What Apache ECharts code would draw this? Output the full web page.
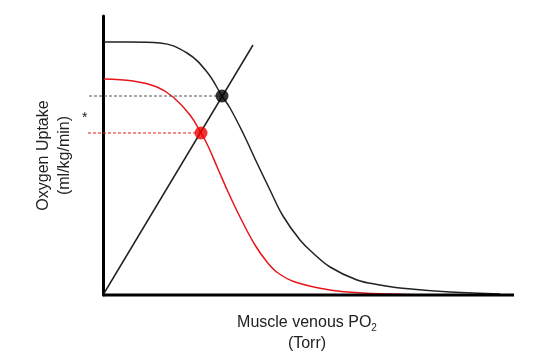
<!DOCTYPE html>
<html>
<head>
<meta charset="utf-8">
<script src="https://cdn.jsdelivr.net/npm/echarts@6/dist/echarts.min.js"></script>
<style>html,body{margin:0;padding:0;background:#fff;}#c{width:558px;height:362px;}</style>
</head>
<body>
<div id="c"></div>
<script>
// Normal (black) uptake curve: [PO2, uptake]
var normalCurve = [[1,253],[27,253],[57,252],[84,242],[104,223],[119,199],[127,187],[140,162],[154,132],[167,105],[180,79],[197,55],[210,42],[227,28],[254,15],[277,10],[297,7],[347,3],[397,1]];
// Impaired (red) uptake curve
var impairedCurve = [[1,216],[30,214],[54,208],[70,198],[87,180],[98,162],[105,149],[115,126],[126,101],[139,74],[152,50],[164,33],[175,22],[192,13],[227,5],[260,2],[287,1],[317,0]];
// Fick line (straight)
var fickLine = [[0,0],[150,250]];
// Operating points
var normalPoint = [119,199];
var impairedPoint = [98,162];
var dashStartX = -14;
var xAxisBase = [[0,0],[411,0]];
var xTitle = 'Muscle venous PO{sub|2}\n(Torr)';
var yTitle = 'Oxygen Uptake\n(ml/kg/min)';

var chart = echarts.init(document.getElementById('c'));
var font = 'Liberation Sans, Arial, sans-serif';
chart.setOption({
  animation: false,
  grid: {left: 88, top: 16, width: 426, height: 279},
  xAxis: {
    type: 'value', min: -15, max: 411,
    axisLine: {show: false},
    axisTick: {show: false}, axisLabel: {show: false}, splitLine: {show: false},
    name: xTitle, nameLocation: 'middle', nameGap: 17,
    nameTextStyle: {fontFamily: font, fontSize: 16, color: '#222', lineHeight: 21, align: 'center', verticalAlign: 'top', padding: [0,0,0,12],
      rich: {sub: {fontFamily: font, fontSize: 10, color: '#222', verticalAlign: 'bottom', padding: [6,0,0,0]}}}
  },
  yAxis: {
    type: 'value', min: 0, max: 279,
    axisLine: {show: true, onZero: true, lineStyle: {color: '#000', width: 3}},
    axisTick: {show: false}, axisLabel: {show: false}, splitLine: {show: false},
    name: yTitle, nameLocation: 'middle', nameGap: 13, nameRotate: 90,
    nameTextStyle: {fontFamily: font, fontSize: 16, color: '#222', lineHeight: 21, align: 'center'}
  },
  series: [
    {type: 'line', data: xAxisBase, symbol: 'none', clip: false, z: 4,
     lineStyle: {color: '#000', width: 3}},
    {type: 'line', data: normalCurve, smooth: 0.4, symbol: 'none', clip: false,
     lineStyle: {color: '#222', width: 1.5}},
    {type: 'line', data: impairedCurve, smooth: 0.4, symbol: 'none', clip: false,
     lineStyle: {color: '#e8161b', width: 1.5}},
    {type: 'line', data: fickLine, symbol: 'none', clip: false,
     lineStyle: {color: '#222', width: 1.5}},
    {type: 'line', data: [[dashStartX, normalPoint[1]], normalPoint], symbol: 'none', clip: false,
     lineStyle: {color: '#555', width: 1, type: [3,2]}},
    {type: 'line', data: [[dashStartX - 1, impairedPoint[1]], impairedPoint], symbol: 'none', clip: false,
     lineStyle: {color: '#e8161b', width: 1, type: [3,2]}},
    {type: 'scatter', data: [normalPoint], symbolSize: 13, itemStyle: {color: '#000'}, z: 5},
    {type: 'scatter', data: [impairedPoint], symbolSize: 13, itemStyle: {color: '#f00000'}, z: 5}
  ],
  graphic: [
    {type: 'text', left: 82, top: 111, style: {text: '*', fontFamily: font, fontSize: 14, fill: '#222'}}
  ]
});
</script>
</body>
</html>
